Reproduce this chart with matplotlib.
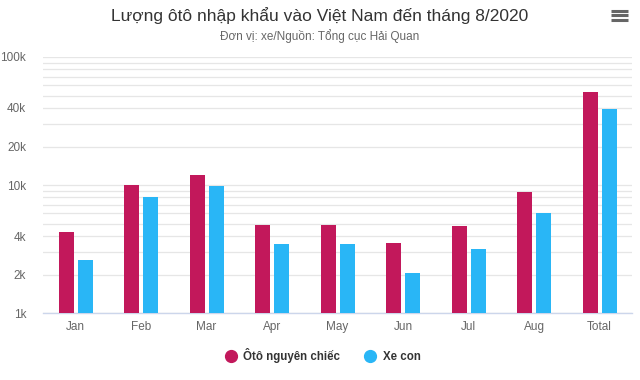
import numpy as np
import matplotlib
matplotlib.use('Agg')
import matplotlib.pyplot as plt
from matplotlib.ticker import FixedLocator, NullFormatter, LogLocator
from matplotlib.lines import Line2D

plt.rcParams['font.family'] = ['Liberation Sans', 'DejaVu Sans']

# Data (units: vehicles)
months = ['Jan', 'Feb', 'Mar', 'Apr', 'May', 'Jun', 'Jul', 'Aug', 'Total']
oto_nguyen_chiec = [4270, 10100, 12000, 4900, 4900, 3520, 4760, 8800, 53600]
xe_con = [2580, 8100, 9800, 3460, 3460, 2070, 3160, 6100, 39200]

tick_vals = [1000, 2000, 4000, 10000, 20000, 40000, 100000]
tick_labels = ['1k', '2k', '4k', '10k', '20k', '40k', '100k']

red = '#c2185b'
blue = '#29b6f6'

fig = plt.figure(figsize=(6.4, 3.8), dpi=100)
ax = fig.add_axes([0.067, 0.176, 0.921, 0.674])

x = np.arange(len(months))
w = 0.23
ax.bar(x - w / 2 - 0.03, oto_nguyen_chiec, width=w, color=red, zorder=3, bottom=0)
ax.bar(x + w / 2 + 0.03, xe_con, width=w, color=blue, zorder=3, bottom=0)

ax.set_yscale('log')
ax.set_ylim(1000, 100000)
ax.set_xlim(-0.5, len(months) - 0.5)

# gridlines at every log minor step
ax.yaxis.set_major_locator(FixedLocator(tick_vals))
ax.set_yticklabels(tick_labels)
ax.yaxis.set_minor_locator(LogLocator(base=10, subs=np.arange(1, 10)))
ax.yaxis.set_minor_formatter(NullFormatter())
ax.grid(axis='y', which='both', color='#e6e6e6', linewidth=0.9, zorder=0)
ax.tick_params(axis='y', which='both', length=0, labelsize=8.5, labelcolor='#666666', pad=12)

ax.set_xticks(x)
ax.set_xticklabels(months)
ax.tick_params(axis='x', length=0, labelsize=8.5, labelcolor='#666666', pad=6)

for s in ['top', 'right', 'left']:
    ax.spines[s].set_visible(False)
ax.spines['bottom'].set_color('#ccd6eb')
ax.spines['bottom'].set_linewidth(1)

fig.text(0.5, 0.96, 'Lượng ôtô nhập khẩu vào Việt Nam đến tháng 8/2020',
         ha='center', va='center', fontsize=12.5, color='#333333')
fig.text(0.5, 0.905, 'Đơn vị: xe/Nguồn: Tổng cục Hải Quan',
         ha='center', va='center', fontsize=8.5, color='#666666')

# menu icon
for yy in [0.948, 0.96, 0.972]:
    fig.add_artist(Line2D([0.955, 0.982], [yy, yy], color='#666666', linewidth=2.2,
                          solid_capstyle='butt', transform=fig.transFigure))

handles = [Line2D([], [], marker='o', linestyle='', markersize=8.5, color=red),
           Line2D([], [], marker='o', linestyle='', markersize=8.5, color=blue)]
fig.legend(handles, ['Ôtô nguyên chiếc', 'Xe con'], loc='center', bbox_to_anchor=(0.5, 0.065),
           ncol=2, frameon=False, handletextpad=0.1, columnspacing=1.6,
           prop={'weight': 'bold', 'size': 8.3}, labelcolor='#333333')

fig.savefig('out.png', dpi=100)
